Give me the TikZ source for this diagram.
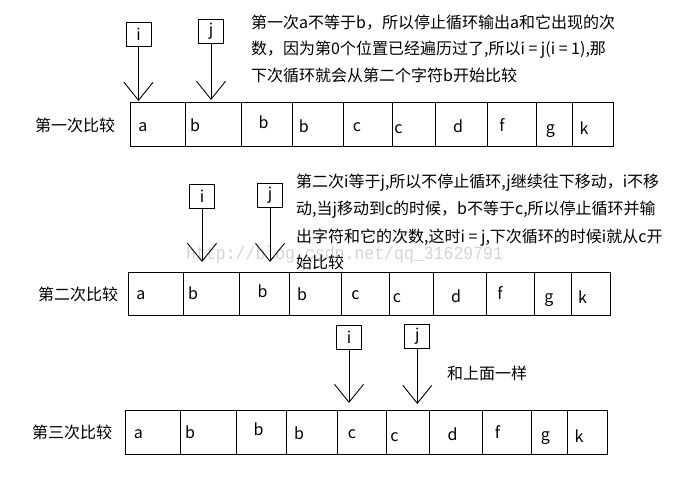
\documentclass[tikz,border=0pt]{standalone}
\usepackage{fontspec}
\setmainfont{Noto Sans CJK SC}
\newfontfamily\wmfont{Liberation Mono}
\usetikzlibrary{arrows.meta}
\begin{document}
\begin{tikzpicture}[x=1pt,y=-1pt,
  txt/.style={anchor=base west,inner sep=0pt,font=\fontsize{16}{20}\selectfont},
  lbl/.style={anchor=base,inner sep=0pt,font=\fontsize{16}{20}\selectfont},
  ptr/.style={draw,line width=1pt,minimum width=25pt,minimum height=24pt,inner sep=0pt,font=\fontsize{16}{20}\selectfont},
  cellbox/.style={draw,line width=1.1pt,anchor=north west,inner sep=0pt},
  ptrarrow/.style={line width=0.9pt,-{Straight Barb[length=18pt,width=29pt,line width=0.9pt]}}]
\useasboundingbox (0,0) rectangle (674,485);
% watermark
\node[anchor=base west,inner sep=0pt,text=black!17,yscale=1.12,font=\wmfont\fontsize{16.5}{20}\selectfont] (wm) at (186,259) {http://blog.csdn.net/qq\_31629791};
% row labels
\node[txt] (lab1) at (35,131) {第一次比较};
\node[txt] (lab2) at (38,300) {第二次比较};
\node[txt] (lab3) at (32,438) {第三次比较};
% rows of cells
\foreach \r/\t/\bt/\xs in {
  1/102/146/{130,185.3,241.3,291.7,342.7,391.7,434.7,487.3,536.3,572.3,612.7},
  2/271.7/315/{128.3,183.3,239.3,289.3,340.7,389.3,432.7,485.7,534.3,570.7,610},
  3/410/454/{125.3,180.3,236.3,286.3,337.3,386.3,429.3,482.3,531.3,567.3,607}}{
  \foreach \a/\b [count=\k] in \xs {}%
}
\foreach \r/\t/\h/\a/\b [count=\k] in {
  1/102/44/130/185.3, 1/102/44/185.3/241.3, 1/102/44/241.3/291.7, 1/102/44/291.7/342.7, 1/102/44/342.7/391.7,
  1/102/44/391.7/434.7, 1/102/44/434.7/487.3, 1/102/44/487.3/536.3, 1/102/44/536.3/572.3, 1/102/44/572.3/612.7,
  2/271.7/43.3/128.3/183.3, 2/271.7/43.3/183.3/239.3, 2/271.7/43.3/239.3/289.3, 2/271.7/43.3/289.3/340.7, 2/271.7/43.3/340.7/389.3,
  2/271.7/43.3/389.3/432.7, 2/271.7/43.3/432.7/485.7, 2/271.7/43.3/485.7/534.3, 2/271.7/43.3/534.3/570.7, 2/271.7/43.3/570.7/610,
  3/410/44/125.3/180.3, 3/410/44/180.3/236.3, 3/410/44/236.3/286.3, 3/410/44/286.3/337.3, 3/410/44/337.3/386.3,
  3/410/44/386.3/429.3, 3/410/44/429.3/482.3, 3/410/44/482.3/531.3, 3/410/44/531.3/567.3, 3/410/44/567.3/607}{
  \node[cellbox,minimum width=\b pt-\a pt,minimum height=\h pt] (cell\k) at (\a,\t) {};
}
% letters
\foreach \ch/\x/\y [count=\k] in {
  a/143/131, b/195/131, b/263.5/128, b/303.7/132, c/357/131, c/398.5/133, d/458/132, f/502/131, g/550.5/133, k/584/134,
  a/141/299, b/193/299, b/262.5/297, b/302/300, c/355.5/299, c/397/302, d/456/302, f/500/299, g/549/302, k/582.5/303,
  a/138.5/438, b/190/438, b/258.5/435, b/299/439, c/352/438, c/394.5/441, d/452.5/440, f/497.5/438, g/545.5/440, k/579/442}{
  \node[lbl] (ch\k) at (\x,\y) {\ch};
}
% pointer boxes
\node[ptr] (i1) at (138.5,34.3) {i};
\node[ptr] (j1) at (211,31.3) {j};
\node[ptr] (i2) at (202,196.3) {i};
\node[ptr] (j2) at (270,195.5) {j};
\node[ptr] (i3) at (349,337.2) {i};
\node[ptr] (j3) at (417.3,336.3) {j};
\coordinate (ti1) at (138.5,101);
\coordinate (tj1) at (211,100);
\coordinate (ti2) at (202,262);
\coordinate (tj2) at (270,262);
\coordinate (ti3) at (349,403);
\coordinate (tj3) at (417.3,404);
\draw[ptrarrow] (i1.south) -- (ti1);
\draw[ptrarrow] (j1.south) -- (tj1);
\draw[ptrarrow] (i2.south) -- (ti2);
\draw[ptrarrow] (j2.south) -- (tj2);
\draw[ptrarrow] (i3.south) -- (ti3);
\draw[ptrarrow] (j3.south) -- (tj3);
% explanations
\node[txt] (t1a) at (251,28) {第一次a不等于b，所以停止循环输出a和它出现的次};
\node[txt] (t1b) at (251,54) {数，因为第0个位置已经遍历过了,所以i = j(i = 1),那};
\node[txt] (t1c) at (251,81) {下次循环就会从第二个字符b开始比较};
\node[txt] (t2a) at (296,187) {第二次i等于j,所以不停止循环,j继续往下移动，i不移};
\node[txt] (t2b) at (296,214) {动,当j移动到c的时候，b不等于c,所以停止循环并输};
\node[txt] (t2c) at (296,242) {出字符和它的次数,这时i = j,下次循环的时候i就从c开};
\node[txt] (t2d) at (296,268) {始比较};
\node[txt] (t3) at (447,379) {和上面一样};
\end{tikzpicture}
\end{document}
